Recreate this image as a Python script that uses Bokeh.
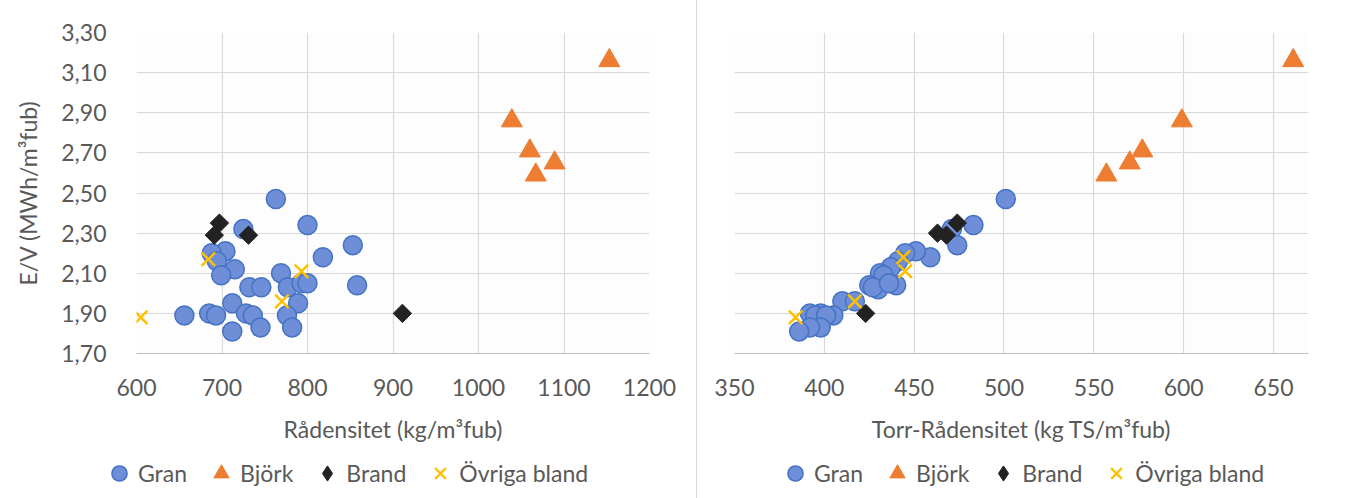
import math
from bokeh.plotting import figure
from bokeh.layouts import row, column
from bokeh.models import Legend, LegendItem, FixedTicker, Range1d
from bokeh.embed import file_html
from bokeh.resources import INLINE

# ---------------- data ----------------
gran_rad_x = [763, 800, 725, 853, 818, 704, 688, 694, 715, 699, 769, 732, 746, 777,
              793, 800, 858, 712, 789, 656, 685, 693, 728, 736, 776, 712, 745, 782]
gran_rad_y = [2.47, 2.34, 2.32, 2.24, 2.18, 2.21, 2.20, 2.16, 2.12, 2.09, 2.10, 2.03, 2.03, 2.03,
              2.05, 2.05, 2.04, 1.95, 1.95, 1.89, 1.90, 1.89, 1.90, 1.89, 1.89, 1.81, 1.83, 1.83]
bjork_rad_x = [1153, 1039, 1060, 1089, 1067]
bjork_rad_y = [3.16, 2.86, 2.71, 2.65, 2.59]
brand_rad_x = [697, 691, 731, 911]
brand_rad_y = [2.35, 2.29, 2.29, 1.90]
ovr_rad_x = [605, 684, 793, 770]
ovr_rad_y = [1.88, 2.17, 2.11, 1.96]

gran_torr_x = [501, 483, 471, 474, 459, 451, 445, 441, 437, 431, 433, 425, 430, 427,
               440, 436, 410, 417, 405, 398, 392, 395, 401, 398, 392, 386]
gran_torr_y = [2.47, 2.34, 2.32, 2.24, 2.18, 2.21, 2.20, 2.16, 2.13, 2.10, 2.09, 2.04, 2.02, 2.03,
               2.04, 2.05, 1.96, 1.96, 1.89, 1.90, 1.90, 1.89, 1.89, 1.83, 1.83, 1.81]
bjork_torr_x = [661, 599, 577, 570, 557]
bjork_torr_y = [3.16, 2.86, 2.71, 2.65, 2.59]
brand_torr_x = [474, 468, 463, 423]
brand_torr_y = [2.35, 2.29, 2.30, 1.90]
ovr_torr_x = [384, 417, 444, 445]
ovr_torr_y = [1.88, 1.96, 2.18, 2.11]

y_ticks = [1.7, 1.9, 2.1, 2.3, 2.5, 2.7, 2.9, 3.1, 3.3]
y_tick_labels = ["1,70", "1,90", "2,10", "2,30", "2,50", "2,70", "2,90", "3,10", "3,30"]
x1_ticks = [600, 700, 800, 900, 1000, 1100, 1200]
x2_ticks = [350, 400, 450, 500, 550, 600, 650]

labels = ["Gran", "Björk", "Brand", "Övriga bland"]

FONT = "Lato"
TXT = "#595959"
GRID = "#D9D9D9"
FS = "23px"

STYLES = [
    dict(marker="circle", size=19, fill_color="#6E8FD8", line_color="#4472C4", line_width=1.5),
    dict(marker="triangle", size=21, fill_color="#ED7D31", line_color="#ED7D31", line_width=1),
    dict(marker="square", angle=math.pi / 4, size=13, fill_color="#222222",
         line_color="#222222", line_width=1),
    dict(marker="x", size=19, line_color="#FFC000", line_width=2.5),
]
# legend glyphs ignore angle, so the legend strip uses a diamond marker
LEG_STYLES = [
    STYLES[0],
    STYLES[1],
    dict(marker="diamond", size=13, fill_color="#222222", line_color="#222222", line_width=1),
    dict(marker="x", size=19, line_color="#FFC000", line_width=2.2),
]

MAIN_H = 450
LEG_H = 498 - MAIN_H


def style(p, xticks):
    p.xaxis.ticker = FixedTicker(ticks=xticks)
    p.yaxis.ticker = FixedTicker(ticks=y_ticks)
    p.yaxis.major_label_overrides = {t: l for t, l in zip(y_ticks, y_tick_labels)}
    for ax in (p.xaxis, p.yaxis):
        ax.major_tick_line_color = None
        ax.minor_tick_line_color = None
        ax.major_label_text_font = FONT
        ax.major_label_text_font_size = FS
        ax.major_label_text_color = TXT
        ax.axis_label_text_font = FONT
        ax.axis_label_text_font_size = FS
        ax.axis_label_text_color = TXT
        ax.axis_label_text_font_style = "normal"
    p.xaxis.axis_line_color = "#BFBFBF"
    p.yaxis.axis_line_color = None
    p.xaxis.major_label_standoff = 19
    p.yaxis.major_label_standoff = 24
    p.xaxis.axis_label_standoff = 16
    p.yaxis.axis_label_standoff = 16
    p.grid.grid_line_color = GRID
    p.grid.grid_line_width = 1.2
    p.outline_line_color = None
    p.background_fill_color = "#FDFDFD"
    p.border_fill_color = "white"
    p.frame_align = False


def draw(p, series, styles=STYLES):
    return [p.scatter(xs, ys, **st) for (xs, ys), st in zip(series, styles)]


def legend_fig(width, legend_x, series):
    # separate strip holding only the legend; its renderers use the same data but
    # fall outside this strip's (0, 1) ranges, so only the legend shows
    q = figure(width=width, height=LEG_H, output_backend="svg", toolbar_location=None,
               x_range=Range1d(0, 1), y_range=Range1d(0, 1), x_axis_type=None, y_axis_type=None,
               min_border=0, min_border_left=0, min_border_right=0,
               min_border_top=0, min_border_bottom=0)
    q.frame_align = False
    q.grid.visible = False
    q.outline_line_color = None
    q.background_fill_color = "white"
    rs = draw(q, series, LEG_STYLES)
    items = [LegendItem(label=l, renderers=[r]) for l, r in zip(labels, rs)]
    lg = Legend(items=items, orientation="horizontal", location=(legend_x, 6),
                border_line_color=None, background_fill_alpha=0, padding=0, margin=0,
                spacing=15, glyph_width=38, glyph_height=38, label_standoff=0,
                label_text_font=FONT, label_text_font_size=FS, label_text_color=TXT,
                label_height=20)
    q.add_layout(lg, "center")
    return q


s1 = [(gran_rad_x, gran_rad_y), (bjork_rad_x, bjork_rad_y),
      (brand_rad_x, brand_rad_y), (ovr_rad_x, ovr_rad_y)]
s2 = [(gran_torr_x, gran_torr_y), (bjork_torr_x, bjork_torr_y),
      (brand_torr_x, brand_torr_y), (ovr_torr_x, ovr_torr_y)]

p1 = figure(width=696, height=MAIN_H, output_backend="svg", toolbar_location=None,
            x_range=Range1d(600, 1200), y_range=Range1d(1.7, 3.3),
            min_border_left=136, min_border_right=47, min_border_top=32,
            min_border_bottom=MAIN_H - 353)
style(p1, x1_ticks)
p1.xaxis.axis_label = "Rådensitet (kg/m³fub)"
p1.yaxis.axis_label = "E/V (MWh/m³fub)"
draw(p1, s1)
l1 = legend_fig(696, 100, s1)

p2 = figure(width=651, height=MAIN_H, output_backend="svg", toolbar_location=None,
            x_range=Range1d(350, 669.5), y_range=Range1d(1.7, 3.3),
            min_border_left=37, min_border_right=40, min_border_top=32,
            min_border_bottom=MAIN_H - 353)
style(p2, x2_ticks)
p2.yaxis.visible = False
p2.xaxis.axis_label = "Torr-Rådensitet (kg TS/m³fub)"
draw(p2, s2)
l2 = legend_fig(651, 79, s2)

c1 = column(p1, l1, spacing=0)
c2 = column(p2, l2, spacing=0)
c2.styles = {"border-left": "1px solid #D9D9D9"}

layout = row(c1, c2, spacing=0)
open("out.html", "w").write(file_html(layout, INLINE))
